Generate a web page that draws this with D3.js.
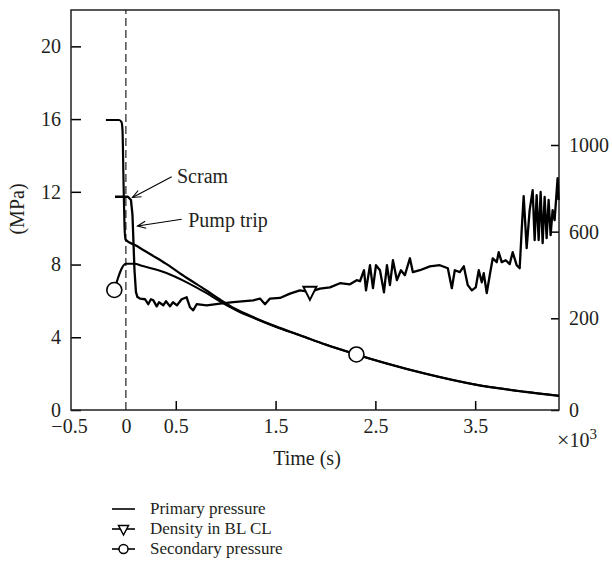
<!DOCTYPE html>
<html>
<head>
<meta charset="utf-8">
<script src="https://cdn.jsdelivr.net/npm/d3@7"></script>
<style>
  body { margin: 0; background: #fff; }
  svg text { font-family: "Liberation Serif", "DejaVu Serif", serif; fill: #231f20; }
</style>
</head>
<body>
<div id="chart"></div>
<script>
// time in 10^3 s, pressure in MPa, density on the right axis
const timeTicks = [-0.5, 0, 0.5, 1.5, 2.5, 3.5];
const pressureTicks = [0, 4, 8, 12, 16, 20];
const densityTicks = [0, 200, 600, 1000];

const primaryT = [-0.2, -0.069, -0.044, -0.034, -0.024, -0.014, -0.004, 0.1, 0.25, 0.4, 0.6, 0.8, 0.95, 1.1, 1.3, 1.5, 1.75, 2.0, 2.3, 2.6, 3.0, 3.5, 4.0, 4.34];
const primaryP = [15.95, 15.95, 15.84, 15.4, 12.65, 10.18, 9.38, 9.05, 8.55, 8.05, 7.3, 6.6, 6.05, 5.55, 5.05, 4.6, 4.1, 3.6, 3.07, 2.58, 2.0, 1.4, 1.0, 0.78];

const secondaryT = [-0.116, 0.0, 0.09, 0.15, 0.4, 0.6, 0.8, 0.95, 1.1, 1.3, 1.5, 1.75, 2.0, 2.3, 2.6, 3.0, 3.5, 4.0, 4.34];
const secondaryP = [6.6, 8.05, 8.05, 7.95, 7.55, 7.05, 6.45, 5.95, 5.5, 5.02, 4.58, 4.1, 3.6, 3.07, 2.58, 2.0, 1.4, 1.0, 0.78];

const densityT = [-0.109, 0.021, 0.051, 0.066, 0.086, 0.101, 0.116, 0.141, 0.191, 0.224, 0.251, 0.275, 0.309, 0.332, 0.375, 0.402, 0.442, 0.472, 0.512, 0.559, 0.609, 0.642, 0.675, 0.709, 0.81, 0.943, 1.076, 1.277, 1.344, 1.394, 1.444, 1.544, 1.644, 1.744, 1.844, 1.945, 2.045, 2.145, 2.245, 2.313, 2.346, 2.386, 2.406, 2.446, 2.476, 2.506, 2.546, 2.586, 2.616, 2.646, 2.676, 2.716, 2.756, 2.796, 2.846, 2.876, 2.946, 3.046, 3.146, 3.226, 3.266, 3.296, 3.346, 3.386, 3.426, 3.466, 3.506, 3.536, 3.566, 3.586, 3.616, 3.646, 3.676, 3.716, 3.736, 3.766, 3.806, 3.846, 3.876, 3.916, 3.946, 3.966, 3.986, 4.016, 4.046, 4.076, 4.096, 4.116, 4.136, 4.156, 4.176, 4.196, 4.216, 4.236, 4.256, 4.276, 4.296, 4.326, 4.336];
const densityV = [761, 761, 746, 677, 423, 321, 298, 291, 288, 265, 288, 283, 255, 274, 260, 279, 255, 274, 260, 288, 297, 251, 237, 265, 260, 268, 275, 283, 291, 265, 291, 294, 314, 329, 322, 337, 343, 362, 357, 376, 371, 422, 329, 445, 339, 445, 422, 320, 445, 353, 468, 376, 422, 399, 477, 413, 422, 440, 445, 431, 339, 422, 413, 440, 353, 329, 343, 422, 366, 408, 316, 399, 477, 459, 505, 459, 468, 450, 505, 445, 431, 607, 764, 524, 699, 792, 561, 769, 561, 783, 547, 760, 570, 746, 584, 699, 653, 847, 746];

const secondaryMarkT = [-0.116, 2.31];
const densityMarkT = [1.844];

const notes = [
  {label: "Scram", tip: [0.066, 11.69], tail: [0.459, 12.83], text: [0.512, 12.47]},
  {label: "Pump trip", tip: [0.116, 10.12], tail: [0.559, 10.49], text: [0.625, 10.09]}
];

const legendNames = ["Primary pressure", "Density in BL CL", "Secondary pressure"];

const width = 612, height = 572;
const plot = {left: 71, right: 559, top: 10, bottom: 410};
const fontSize = 20;

const svg = d3.select("#chart").append("svg")
    .attr("width", width)
    .attr("height", height)
    .attr("font-size", fontSize);

const x = d3.scaleLinear().domain([-0.55, 4.34]).range([plot.left, plot.right]);
const y = d3.scaleLinear().domain([0, 22]).range([plot.bottom, plot.top]);
// right axis is not uniform below 200 in the original figure
const yR = d3.scaleLinear().domain([0, 200, 1000]).range([plot.bottom, 318.3, 145]);

// axes
svg.append("g")
    .attr("transform", `translate(${plot.left},0)`)
    .call(d3.axisLeft(y).tickValues(pressureTicks).tickSize(-10).tickPadding(10).tickFormat(d3.format("d")))
    .call(g => g.select(".domain").remove())
    .call(g => g.selectAll("text").attr("font-size", fontSize).attr("font-family", null))
    .call(g => g.selectAll(".tick line").attr("stroke-width", 1.5));

svg.append("g")
    .attr("transform", `translate(${plot.right},0)`)
    .call(d3.axisRight(yR).tickValues(densityTicks).tickSize(-8).tickPadding(10).tickFormat(d3.format("d")))
    .call(g => g.select(".domain").remove())
    .call(g => g.selectAll("text").attr("font-size", fontSize).attr("font-family", null))
    .call(g => g.selectAll(".tick line").attr("stroke-width", 1.5));

svg.append("g")
    .attr("transform", `translate(0,${plot.bottom})`)
    .call(d3.axisBottom(x).tickValues(timeTicks).tickSize(-9).tickPadding(9)
      .tickFormat(d => d === 0 ? "0" : d3.format(".1f")(d).replace("-", "\u2212")))
    .call(g => g.select(".domain").remove())
    .call(g => g.selectAll("text").attr("font-size", fontSize).attr("font-family", null))
    .call(g => g.selectAll(".tick line").attr("stroke-width", 1.5))
    .call(g => g.selectAll(".tick").filter(d => d <= 0).select("line").remove())
    .call(g => g.selectAll(".tick").filter(d => d < 0).select("text").attr("dx", -7));

// frame
svg.append("rect")
    .attr("x", plot.left).attr("y", plot.top)
    .attr("width", plot.right - plot.left).attr("height", plot.bottom - plot.top)
    .attr("fill", "none").attr("stroke", "#231f20").attr("stroke-width", 1.5);

// t = 0 marker line
svg.append("line")
    .attr("x1", x(0)).attr("x2", x(0))
    .attr("y1", plot.bottom).attr("y2", plot.top)
    .attr("stroke", "#231f20").attr("stroke-width", 1.2)
    .attr("stroke-dasharray", "8,4");

const primary = primaryT.map((t, i) => [t, primaryP[i]]);
const secondary = secondaryT.map((t, i) => [t, secondaryP[i]]);
const density = densityT.map((t, i) => [t, densityV[i]]);

const lineL = d3.line().x(d => x(d[0])).y(d => y(d[1])).curve(d3.curveMonotoneX);
const lineR = d3.line().x(d => x(d[0])).y(d => yR(d[1]));

svg.append("path").datum(density)
    .attr("d", lineR)
    .attr("fill", "none").attr("stroke", "#000").attr("stroke-width", 2.3)
    .attr("stroke-linejoin", "round");

svg.append("path").datum(secondary)
    .attr("d", lineL)
    .attr("fill", "none").attr("stroke", "#000").attr("stroke-width", 2);

svg.append("path").datum(primary)
    .attr("d", lineL)
    .attr("fill", "none").attr("stroke", "#000").attr("stroke-width", 2.2);

// markers
const interpSec = t => {
  const i = d3.bisectLeft(secondaryT, t);
  if (secondaryT[i] === t) return secondaryP[i];
  const t0 = secondaryT[i - 1], t1 = secondaryT[i];
  return secondaryP[i - 1] + (secondaryP[i] - secondaryP[i - 1]) * (t - t0) / (t1 - t0);
};
svg.append("g").selectAll("circle")
  .data(secondaryMarkT)
  .join("circle")
    .attr("cx", d => x(d))
    .attr("cy", d => y(interpSec(d)))
    .attr("r", 7.5)
    .attr("fill", "#fff").attr("stroke", "#000").attr("stroke-width", 1.6);

const tri = "M-6.5,-5L6.5,-5L0,8Z";
svg.append("g").selectAll("path")
  .data(densityMarkT)
  .join("path")
    .attr("transform", d => `translate(${x(d)},${yR(densityV[densityT.indexOf(d)])})`)
    .attr("d", tri)
    .attr("fill", "#fff").attr("stroke", "#000").attr("stroke-width", 2);

// annotations
const ann = svg.append("g");
notes.forEach(n => {
  const x1 = x(n.tail[0]), y1 = y(n.tail[1]);
  const x2 = x(n.tip[0]), y2 = y(n.tip[1]);
  const a = Math.atan2(y1 - y2, x1 - x2);
  const h = 9, s = 0.4;
  ann.append("line")
      .attr("x1", x1).attr("y1", y1).attr("x2", x2).attr("y2", y2)
      .attr("stroke", "#000").attr("stroke-width", 1.1);
  ann.append("path")
      .attr("d", `M${x2 + h * Math.cos(a + s)},${y2 + h * Math.sin(a + s)}L${x2},${y2}L${x2 + h * Math.cos(a - s)},${y2 + h * Math.sin(a - s)}`)
      .attr("fill", "none").attr("stroke", "#000").attr("stroke-width", 1.1);
  ann.append("text")
      .attr("x", x(n.text[0])).attr("y", y(n.text[1]))
      .text(n.label);
});

// axis titles
svg.append("text")
    .attr("transform", "translate(24,209) rotate(-90)")
    .attr("text-anchor", "middle")
    .text("(MPa)");

svg.append("text")
    .attr("x", 307).attr("y", 465)
    .attr("text-anchor", "middle")
    .text("Time (s)");

const mult = svg.append("text").attr("x", 557).attr("y", 447);
mult.append("tspan").text("\u00d7").attr("font-size", 22);
mult.append("tspan").text("10");
mult.append("tspan").attr("dy", -8).attr("font-size", 15).text("3");

// legend
const legend = svg.append("g").attr("font-size", 17);
legendNames.forEach((name, i) => {
  const by = 514 + i * 20;
  const ly = by - 5;
  legend.append("line")
      .attr("x1", 112).attr("x2", 135).attr("y1", ly).attr("y2", ly)
      .attr("stroke", "#000").attr("stroke-width", 1.6);
  if (i === 1) {
    legend.append("path")
        .attr("transform", `translate(123.5,${ly})`)
        .attr("d", "M-5,-3.5L5,-3.5L0,6Z")
        .attr("fill", "#fff").attr("stroke", "#000").attr("stroke-width", 1.5);
  }
  if (i === 2) {
    legend.append("circle")
        .attr("cx", 123.5).attr("cy", ly).attr("r", 4.5)
        .attr("fill", "#fff").attr("stroke", "#000").attr("stroke-width", 1.5);
  }
  legend.append("text")
      .attr("x", 150).attr("y", by)
      .text(name);
});
</script>
</body>
</html>
